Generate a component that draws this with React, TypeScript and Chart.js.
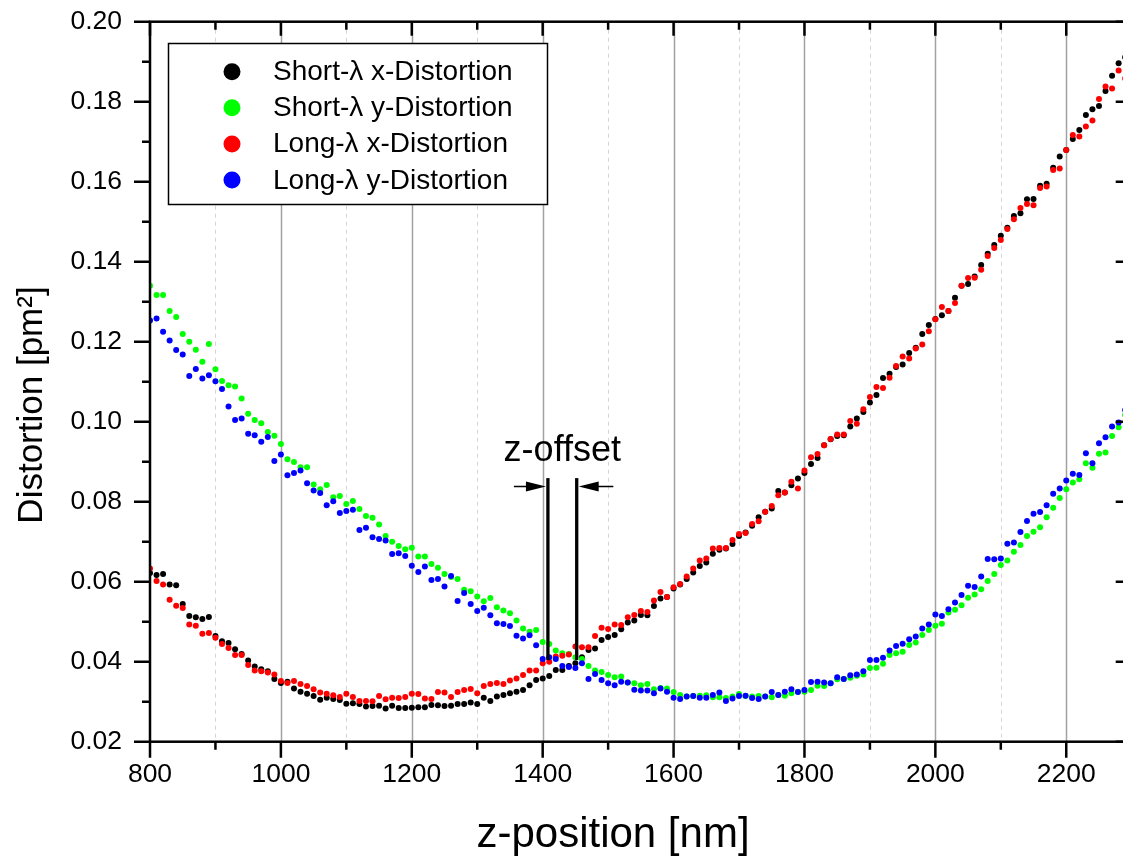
import React, { useEffect, useRef } from "react";
import { Chart, registerables } from "chart.js";

Chart.register(...registerables);

// z-position [nm] of every measurement
const Z_POSITIONS = [
  800, 810, 820, 830, 840, 850, 860, 870, 880, 890,
  900, 910, 920, 930, 940, 950, 960, 970, 980, 990,
  1000, 1010, 1020, 1030, 1040, 1050, 1060, 1070, 1080, 1090,
  1100, 1110, 1120, 1130, 1140, 1150, 1160, 1170, 1180, 1190,
  1200, 1210, 1220, 1230, 1240, 1250, 1260, 1270, 1280, 1290,
  1300, 1310, 1320, 1330, 1340, 1350, 1360, 1370, 1380, 1390,
  1400, 1410, 1420, 1430, 1440, 1450, 1460, 1470, 1480, 1490,
  1500, 1510, 1520, 1530, 1540, 1550, 1560, 1570, 1580, 1590,
  1600, 1610, 1620, 1630, 1640, 1650, 1660, 1670, 1680, 1690,
  1700, 1710, 1720, 1730, 1740, 1750, 1760, 1770, 1780, 1790,
  1800, 1810, 1820, 1830, 1840, 1850, 1860, 1870, 1880, 1890,
  1900, 1910, 1920, 1930, 1940, 1950, 1960, 1970, 1980, 1990,
  2000, 2010, 2020, 2030, 2040, 2050, 2060, 2070, 2080, 2090,
  2100, 2110, 2120, 2130, 2140, 2150, 2160, 2170, 2180, 2190,
  2200, 2210, 2220, 2230, 2240, 2250, 2260, 2270, 2280, 2290,
];

const SHORT_X = [
  0.0622, 0.0617, 0.0619, 0.0593, 0.0591, 0.0544, 0.0514, 0.0511, 0.0507, 0.0512,
  0.0464, 0.0451, 0.0447, 0.0431, 0.0419, 0.0403, 0.0388, 0.0381, 0.0376, 0.0357,
  0.0347, 0.0350, 0.0333, 0.0325, 0.0320, 0.0314, 0.0305, 0.0310, 0.0307, 0.0304,
  0.0295, 0.0296, 0.0294, 0.0288, 0.0289, 0.0290, 0.0283, 0.0290, 0.0284, 0.0284,
  0.0285, 0.0286, 0.0286, 0.0292, 0.0291, 0.0289, 0.0290, 0.0294, 0.0294, 0.0298,
  0.0294, 0.0310, 0.0302, 0.0313, 0.0317, 0.0321, 0.0325, 0.0329, 0.0341, 0.0354,
  0.0358, 0.0364, 0.0379, 0.0379, 0.0389, 0.0396, 0.0411, 0.0429, 0.0433, 0.0454,
  0.0462, 0.0467, 0.0481, 0.0498, 0.0503, 0.0517, 0.0516, 0.0539, 0.0558, 0.0562,
  0.0583, 0.0593, 0.0607, 0.0623, 0.0639, 0.0648, 0.0670, 0.0680, 0.0683, 0.0694,
  0.0714, 0.0723, 0.0740, 0.0761, 0.0775, 0.0783, 0.0827, 0.0823, 0.0841, 0.0858,
  0.0872, 0.0894, 0.0909, 0.0941, 0.0956, 0.0964, 0.0966, 0.0988, 0.1008, 0.1024,
  0.1048, 0.1067, 0.1109, 0.1120, 0.1137, 0.1143, 0.1172, 0.1185, 0.1219, 0.1242,
  0.1257, 0.1266, 0.1277, 0.1310, 0.1340, 0.1344, 0.1363, 0.1392, 0.1420, 0.1442,
  0.1465, 0.1485, 0.1514, 0.1521, 0.1556, 0.1557, 0.1590, 0.1595, 0.1635, 0.1663,
  0.1679, 0.1707, 0.1729, 0.1767, 0.1781, 0.1789, 0.1827, 0.1865, 0.1896, 0.1911,
];

const SHORT_Y = [
  0.1340, 0.1317, 0.1317, 0.1277, 0.1262, 0.1219, 0.1200, 0.1180, 0.1150, 0.1194,
  0.1131, 0.1102, 0.1091, 0.1088, 0.1058, 0.1020, 0.1004, 0.0996, 0.0974, 0.0965,
  0.0944, 0.0906, 0.0899, 0.0886, 0.0886, 0.0843, 0.0831, 0.0842, 0.0811, 0.0814,
  0.0794, 0.0802, 0.0782, 0.0764, 0.0760, 0.0743, 0.0714, 0.0700, 0.0689, 0.0681,
  0.0685, 0.0663, 0.0663, 0.0644, 0.0635, 0.0619, 0.0612, 0.0607, 0.0580, 0.0576,
  0.0563, 0.0551, 0.0559, 0.0536, 0.0528, 0.0521, 0.0503, 0.0483, 0.0475, 0.0479,
  0.0449, 0.0444, 0.0428, 0.0421, 0.0419, 0.0411, 0.0407, 0.0389, 0.0378, 0.0374,
  0.0367, 0.0361, 0.0363, 0.0348, 0.0346, 0.0341, 0.0344, 0.0331, 0.0334, 0.0333,
  0.0324, 0.0317, 0.0313, 0.0314, 0.0315, 0.0316, 0.0311, 0.0311, 0.0309, 0.0313,
  0.0319, 0.0314, 0.0313, 0.0314, 0.0313, 0.0311, 0.0317, 0.0315, 0.0321, 0.0325,
  0.0325, 0.0329, 0.0340, 0.0339, 0.0346, 0.0356, 0.0357, 0.0360, 0.0365, 0.0368,
  0.0384, 0.0385, 0.0395, 0.0417, 0.0421, 0.0425, 0.0442, 0.0448, 0.0467, 0.0479,
  0.0490, 0.0495, 0.0523, 0.0530, 0.0541, 0.0560, 0.0568, 0.0581, 0.0602, 0.0619,
  0.0642, 0.0653, 0.0675, 0.0692, 0.0714, 0.0725, 0.0736, 0.0761, 0.0785, 0.0809,
  0.0831, 0.0848, 0.0856, 0.0896, 0.0885, 0.0920, 0.0923, 0.0964, 0.0986, 0.1017,
];

const LONG_X = [
  0.0633, 0.0602, 0.0593, 0.0555, 0.0540, 0.0534, 0.0493, 0.0490, 0.0470, 0.0472,
  0.0460, 0.0444, 0.0434, 0.0417, 0.0417, 0.0392, 0.0378, 0.0376, 0.0373, 0.0368,
  0.0352, 0.0347, 0.0352, 0.0344, 0.0339, 0.0331, 0.0323, 0.0320, 0.0316, 0.0312,
  0.0320, 0.0312, 0.0302, 0.0302, 0.0301, 0.0314, 0.0306, 0.0310, 0.0309, 0.0312,
  0.0320, 0.0319, 0.0308, 0.0307, 0.0324, 0.0323, 0.0312, 0.0324, 0.0329, 0.0332,
  0.0321, 0.0339, 0.0344, 0.0347, 0.0344, 0.0353, 0.0358, 0.0367, 0.0378, 0.0378,
  0.0396, 0.0400, 0.0413, 0.0415, 0.0418, 0.0438, 0.0436, 0.0436, 0.0464, 0.0485,
  0.0482, 0.0493, 0.0492, 0.0511, 0.0517, 0.0527, 0.0524, 0.0553, 0.0574, 0.0562,
  0.0586, 0.0594, 0.0613, 0.0633, 0.0653, 0.0658, 0.0683, 0.0684, 0.0684, 0.0704,
  0.0719, 0.0722, 0.0744, 0.0751, 0.0775, 0.0789, 0.0816, 0.0823, 0.0850, 0.0833,
  0.0878, 0.0911, 0.0919, 0.0941, 0.0957, 0.0968, 0.0968, 0.1002, 0.0995, 0.1031,
  0.1062, 0.1087, 0.1084, 0.1110, 0.1139, 0.1163, 0.1158, 0.1183, 0.1193, 0.1226,
  0.1256, 0.1287, 0.1277, 0.1297, 0.1340, 0.1359, 0.1360, 0.1380, 0.1414, 0.1434,
  0.1454, 0.1482, 0.1506, 0.1534, 0.1544, 0.1541, 0.1584, 0.1588, 0.1629, 0.1633,
  0.1679, 0.1717, 0.1713, 0.1738, 0.1753, 0.1807, 0.1838, 0.1833, 0.1878, 0.1858,
];

const LONG_Y = [
  0.1253, 0.1258, 0.1225, 0.1203, 0.1179, 0.1168, 0.1114, 0.1132, 0.1108, 0.1116,
  0.1101, 0.1082, 0.1038, 0.1004, 0.1008, 0.0970, 0.0966, 0.0950, 0.0962, 0.0902,
  0.0918, 0.0866, 0.0872, 0.0878, 0.0846, 0.0828, 0.0822, 0.0791, 0.0801, 0.0772,
  0.0777, 0.0780, 0.0729, 0.0735, 0.0711, 0.0707, 0.0703, 0.0669, 0.0671, 0.0664,
  0.0640, 0.0624, 0.0638, 0.0604, 0.0607, 0.0588, 0.0614, 0.0552, 0.0572, 0.0544,
  0.0527, 0.0535, 0.0516, 0.0496, 0.0494, 0.0489, 0.0465, 0.0458, 0.0466, 0.0441,
  0.0407, 0.0411, 0.0407, 0.0389, 0.0387, 0.0384, 0.0396, 0.0357, 0.0369, 0.0354,
  0.0346, 0.0341, 0.0350, 0.0348, 0.0330, 0.0328, 0.0328, 0.0321, 0.0333, 0.0325,
  0.0310, 0.0307, 0.0313, 0.0314, 0.0310, 0.0310, 0.0317, 0.0323, 0.0302, 0.0308,
  0.0314, 0.0315, 0.0309, 0.0307, 0.0313, 0.0324, 0.0317, 0.0325, 0.0331, 0.0324,
  0.0329, 0.0349, 0.0350, 0.0348, 0.0346, 0.0361, 0.0357, 0.0366, 0.0368, 0.0376,
  0.0404, 0.0404, 0.0410, 0.0428, 0.0439, 0.0445, 0.0456, 0.0463, 0.0483, 0.0493,
  0.0518, 0.0514, 0.0531, 0.0548, 0.0567, 0.0590, 0.0587, 0.0613, 0.0657, 0.0656,
  0.0658, 0.0695, 0.0698, 0.0724, 0.0752, 0.0770, 0.0774, 0.0791, 0.0820, 0.0833,
  0.0853, 0.0870, 0.0867, 0.0921, 0.0896, 0.0946, 0.0961, 0.0988, 0.0998, 0.1029,
];

const SERIES_LABELS = [
  "Short-λ x-Distortion",
  "Short-λ y-Distortion",
  "Long-λ x-Distortion",
  "Long-λ y-Distortion",
];
const SERIES_VALUES = [SHORT_X, SHORT_Y, LONG_X, LONG_Y];
const SERIES_COLORS = ["#000000", "#00ff00", "#ff0000", "#0000ff"];

const X_MIN = 800;
const X_MAX = 2300;
const X_STEP = 100;
const X_LABEL_EVERY = 200;
const Y_MIN = 0.02;
const Y_MAX = 0.2;
const Y_STEP = 0.01;

const X_TITLE = "z-position [nm]";
const Y_TITLE = "Distortion [pm²]";

// z-offset annotation (data coordinates)
const OFFSET_LABEL = "z-offset";
const OFFSET_LINES_X = [1408, 1452];
const OFFSET_LINE_Y_RANGE = [0.0404, 0.0859];
const OFFSET_ARROW_Y = 0.0838;
const OFFSET_ARROW_OUTER_X = [1356, 1508];
const OFFSET_LABEL_POS = [1430, 0.0902];

const FONT = '"Liberation Sans", Arial, Helvetica, sans-serif';
const CANVAS_W = 1140;
const CANVAS_H = 857;
const AREA = { left: 150, top: 21.7, right: 1131.7, bottom: 741.7 };

const gridPlugin = {
  id: "customGrid",
  beforeDatasetsDraw(chart: any) {
    const { ctx, chartArea: a, scales } = chart;
    const xs = scales.x;
    ctx.save();
    xs.ticks.forEach((t: any) => {
      if (t.value <= X_MIN || t.value >= X_MAX) return;
      const px = xs.getPixelForValue(t.value);
      const major = t.value % X_LABEL_EVERY === 0;
      ctx.beginPath();
      ctx.strokeStyle = major ? "#a2a2a2" : "#d4d4d4";
      ctx.lineWidth = major ? 1.5 : 1;
      ctx.setLineDash(major ? [] : [4, 4]);
      ctx.moveTo(Math.round(px) + 0.5, a.top);
      ctx.lineTo(Math.round(px) + 0.5, a.bottom);
      ctx.stroke();
    });
    ctx.restore();
  },
};

const overlayPlugin = {
  id: "overlay",
  afterDraw(chart: any) {
    const { ctx, chartArea: a, scales } = chart;
    const xs = scales.x;
    const ys = scales.y;
    ctx.save();
    ctx.setLineDash([]);
    ctx.strokeStyle = "#000";
    ctx.fillStyle = "#000";

    // frame
    ctx.lineWidth = 2.5;
    ctx.strokeRect(a.left, a.top, a.right - a.left, a.bottom - a.top);

    // x ticks (bottom outward, top inward) + labels
    ctx.font = `26.5px ${FONT}`;
    ctx.textAlign = "center";
    ctx.textBaseline = "top";
    xs.ticks.forEach((t: any) => {
      const px = xs.getPixelForValue(t.value);
      const major = t.value % X_LABEL_EVERY === 0;
      const len = major ? 16 : 8;
      ctx.beginPath();
      ctx.moveTo(px, a.bottom);
      ctx.lineTo(px, a.bottom + len);
      ctx.moveTo(px, a.top);
      ctx.lineTo(px, a.top + (major ? 14 : 8));
      ctx.stroke();
      if (major) ctx.fillText(String(t.value), px, a.bottom + 20);
    });
    // y ticks (left outward, right inward) + labels
    ctx.textAlign = "right";
    ctx.textBaseline = "middle";
    ys.ticks.forEach((t: any, i: number) => {
      const py = ys.getPixelForValue(t.value);
      const major = i % 2 === 0;
      const len = major ? 16 : 8;
      ctx.beginPath();
      ctx.moveTo(a.left - len, py);
      ctx.lineTo(a.left, py);
      ctx.moveTo(a.right, py);
      ctx.lineTo(a.right - len, py);
      ctx.stroke();
      if (major) ctx.fillText(Number(t.value).toFixed(2), a.left - 28, py);
    });

    // axis titles
    ctx.textAlign = "center";
    ctx.textBaseline = "alphabetic";
    ctx.font = `42px ${FONT}`;
    ctx.fillText(X_TITLE, 613, 847);
    ctx.font = `35px ${FONT}`;
    ctx.save();
    ctx.translate(42, 405);
    ctx.rotate(-Math.PI / 2);
    ctx.fillText(Y_TITLE, 0, 0);
    ctx.restore();

    // z-offset annotation
    ctx.lineWidth = 3.3;
    const yTop = ys.getPixelForValue(OFFSET_LINE_Y_RANGE[1]);
    const yBot = ys.getPixelForValue(OFFSET_LINE_Y_RANGE[0]);
    OFFSET_LINES_X.forEach((v) => {
      const px = xs.getPixelForValue(v);
      ctx.beginPath();
      ctx.moveTo(px, yTop);
      ctx.lineTo(px, yBot);
      ctx.stroke();
    });
    const ay = ys.getPixelForValue(OFFSET_ARROW_Y);
    const lx = xs.getPixelForValue(OFFSET_LINES_X[0]) - 2;
    const rx = xs.getPixelForValue(OFFSET_LINES_X[1]) + 2;
    const lOuter = xs.getPixelForValue(OFFSET_ARROW_OUTER_X[0]);
    const rOuter = xs.getPixelForValue(OFFSET_ARROW_OUTER_X[1]);
    ctx.lineWidth = 1.3;
    ctx.beginPath();
    ctx.moveTo(lOuter, ay);
    ctx.lineTo(lx - 10, ay);
    ctx.moveTo(rx + 10, ay);
    ctx.lineTo(rOuter, ay);
    ctx.stroke();
    ctx.beginPath();
    ctx.moveTo(lx, ay);
    ctx.lineTo(lx - 20, ay - 5);
    ctx.lineTo(lx - 20, ay + 5);
    ctx.closePath();
    ctx.fill();
    ctx.beginPath();
    ctx.moveTo(rx, ay);
    ctx.lineTo(rx + 20, ay - 5);
    ctx.lineTo(rx + 20, ay + 5);
    ctx.closePath();
    ctx.fill();
    ctx.font = `36px ${FONT}`;
    ctx.textAlign = "center";
    ctx.textBaseline = "alphabetic";
    ctx.fillText(
      OFFSET_LABEL,
      xs.getPixelForValue(OFFSET_LABEL_POS[0]),
      ys.getPixelForValue(OFFSET_LABEL_POS[1])
    );

    // legend
    const lx0 = 168.5;
    const ly0 = 43.5;
    const lw = 379;
    const lh = 161;
    ctx.fillStyle = "#fff";
    ctx.fillRect(lx0, ly0, lw, lh);
    ctx.lineWidth = 1.5;
    ctx.strokeStyle = "#000";
    ctx.strokeRect(lx0, ly0, lw, lh);
    ctx.font = `28px ${FONT}`;
    ctx.textAlign = "left";
    ctx.textBaseline = "alphabetic";
    SERIES_LABELS.forEach((label, i) => {
      const cy = 71.7 + i * 36.1;
      ctx.beginPath();
      ctx.fillStyle = SERIES_COLORS[i];
      ctx.arc(232, cy, 8.5, 0, Math.PI * 2);
      ctx.fill();
      ctx.fillStyle = "#000";
      ctx.fillText(label, 273, cy + 8.5);
    });
    ctx.restore();
  },
};

export default function App() {
  const canvasRef = useRef<HTMLCanvasElement | null>(null);

  useEffect(() => {
    const canvas = canvasRef.current;
    if (!canvas) return;
    const datasets = SERIES_LABELS.map((label, i) => ({
      label,
      data: Z_POSITIONS.map((z, k) => ({ x: z, y: SERIES_VALUES[i][k] })),
      backgroundColor: SERIES_COLORS[i],
      borderColor: SERIES_COLORS[i],
      pointRadius: 3,
      pointBorderWidth: 0,
      showLine: false,
      order: 4 - i,
    }));
    const noPad = (s: any) => {
      s.paddingTop = 0;
      s.paddingBottom = 0;
      s.paddingLeft = 0;
      s.paddingRight = 0;
    };
    const chart = new Chart(canvas, {
      type: "scatter",
      data: { datasets },
      options: {
        responsive: false,
        animation: false,
        devicePixelRatio: 1,
        layout: {
          padding: { left: 0, top: AREA.top, right: CANVAS_W - AREA.right, bottom: 0 },
        },
        plugins: {
          legend: { display: false },
          tooltip: { enabled: false },
        },
        scales: {
          x: {
            type: "linear",
            min: X_MIN,
            max: X_MAX,
            afterFit: (s: any) => {
              s.height = CANVAS_H - AREA.bottom;
              noPad(s);
            },
            grid: { display: false, drawTicks: false },
            border: { display: false },
            ticks: { stepSize: X_STEP, autoSkip: false, display: false },
          },
          y: {
            type: "linear",
            min: Y_MIN,
            max: Y_MAX,
            afterFit: (s: any) => {
              s.width = AREA.left;
              noPad(s);
            },
            grid: { display: false, drawTicks: false },
            border: { display: false },
            ticks: { stepSize: Y_STEP, autoSkip: false, display: false },
          },
        },
      },
      plugins: [gridPlugin, overlayPlugin],
    } as any);
    return () => chart.destroy();
  }, []);

  return (
    <div
      style={{
        position: "fixed",
        left: 0,
        top: 0,
        width: 1123,
        height: 857,
        overflow: "hidden",
        background: "#fff",
      }}
    >
      <canvas
        ref={canvasRef}
        width={CANVAS_W}
        height={CANVAS_H}
        style={{ display: "block", width: CANVAS_W, height: CANVAS_H }}
      />
    </div>
  );
}
